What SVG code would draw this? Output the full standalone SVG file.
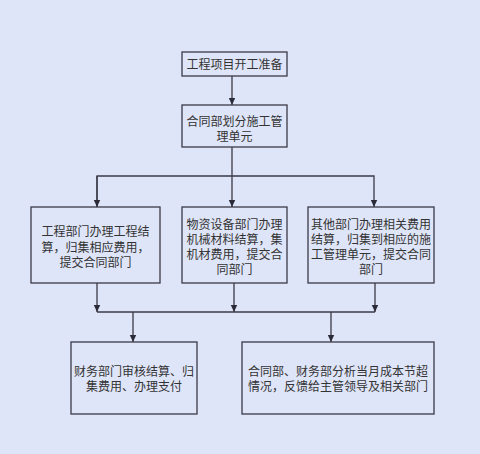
<svg xmlns="http://www.w3.org/2000/svg" width="480" height="454" viewBox="0 0 480 454">
<style>
.bx{fill:#dfe5f8;stroke:#3a3a48;stroke-width:1.3}
.t{font-family:"Liberation Serif","Noto Sans CJK SC",serif;font-size:12px;fill:#333;text-anchor:middle}
.ln{fill:none;stroke:#3a3a48;stroke-width:1.3}
</style>
<defs>
<marker id="ar" markerWidth="8" markerHeight="8" refX="7" refY="4" orient="auto" markerUnits="userSpaceOnUse">
<path d="M0,0.8 L7,4 L0,7.2 Z" fill="#2a2a38"/>
</marker>
</defs>
<rect width="480" height="454" fill="#dfe5f8"/>
<g id="connectors">
<line class="ln" x1="232" y1="76" x2="232" y2="105" marker-end="url(#ar)"/>
<line class="ln" x1="232" y1="147" x2="232" y2="207" marker-end="url(#ar)"/>
<polyline class="ln" points="97,207 97,176 374,176 374,207" marker-end="url(#ar)"/>
<line class="ln" x1="97" y1="176" x2="97" y2="207" marker-end="url(#ar)"/>
<line class="ln" x1="97" y1="283" x2="97" y2="312" marker-end="url(#ar)"/>
<line class="ln" x1="234" y1="283" x2="234" y2="312" marker-end="url(#ar)"/>
<line class="ln" x1="375" y1="283" x2="375" y2="312" marker-end="url(#ar)"/>
<line class="ln" x1="97" y1="312" x2="375" y2="312"/>
<line class="ln" x1="133" y1="312" x2="133" y2="342" marker-end="url(#ar)"/>
<line class="ln" x1="331" y1="312" x2="331" y2="342" marker-end="url(#ar)"/>
</g>
<g id="n1"><rect class="bx" x="182" y="52" width="105" height="24"/><text class="t" x="234.5" y="69">工程项目开工准备</text></g>
<g id="n2"><rect class="bx" x="182" y="105" width="105" height="42"/><text class="t" x="234.5" y="126">合同部划分施工管</text><text class="t" x="234.5" y="141">理单元</text></g>
<g id="n3"><rect class="bx" x="31" y="207" width="129" height="76"/><text class="t" x="95.5" y="236">工程部门办理工程结</text><text class="t" x="95.5" y="252">算，归集相应费用，</text><text class="t" x="95.5" y="267">提交合同部门</text></g>
<g id="n4"><rect class="bx" x="182" y="207" width="105" height="76"/><text class="t" x="234.5" y="229">物资设备部门办理</text><text class="t" x="234.5" y="244">机械材料结算，集</text><text class="t" x="234.5" y="259">机材费用，提交合</text><text class="t" x="234.5" y="274">同部门</text></g>
<g id="n5"><rect class="bx" x="308" y="207" width="126" height="76"/><text class="t" x="371" y="229">其他部门办理相关费用</text><text class="t" x="371" y="244">结算，归集到相应的施</text><text class="t" x="371" y="259">工管理单元，提交合同</text><text class="t" x="371" y="274">部门</text></g>
<g id="n6"><rect class="bx" x="71" y="342" width="126" height="72"/><text class="t" x="134" y="376">财务部门审核结算、归</text><text class="t" x="134" y="391">集费用、办理支付</text></g>
<g id="n7"><rect class="bx" x="242" y="342" width="192" height="72"/><text class="t" x="338" y="376">合同部、财务部分析当月成本节超</text><text class="t" x="338" y="391">情况，反馈给主管领导及相关部门</text></g>
</svg>
